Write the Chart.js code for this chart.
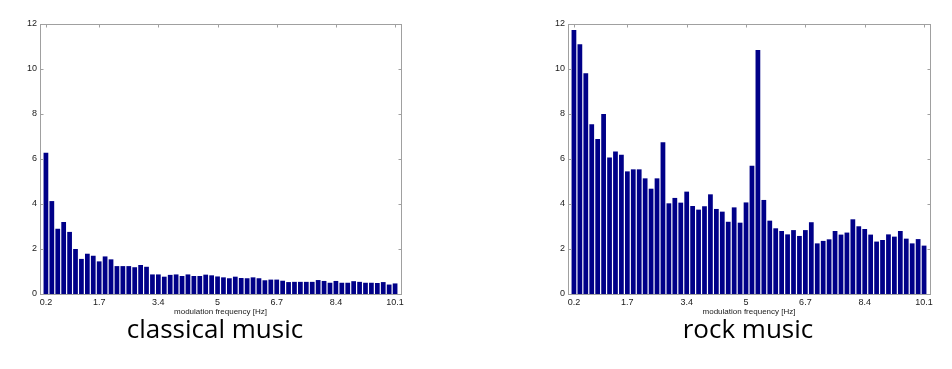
<!DOCTYPE html>
<html>
<head>
<meta charset="utf-8">
<script src="https://cdn.jsdelivr.net/npm/chart.js@4.4.1/dist/chart.umd.min.js"></script>
<style>
  body { margin: 0; background: #fff; width: 952px; height: 369px; overflow: hidden; position: relative; }
  .panel { position: absolute; top: 0; width: 420px; height: 320px; }
  .caption { position: absolute; top: 313px; width: 420px; text-align: center;
             font-family: "Open Sans", sans-serif; font-size: 26px; line-height: 30px; color: #000; }
</style>
</head>
<body>
<div class="panel" style="left:0px"><canvas id="classical" width="420" height="320"></canvas></div>
<div class="panel" style="left:528px"><canvas id="rock" width="420" height="320"></canvas></div>
<div class="caption" style="left:5px">classical music</div>
<div class="caption" style="left:538px">rock music</div>

<script>
// modulation spectrum, 60 bands (bar index 1..60)
const classicalValues = [
  6.28, 4.13, 2.90, 3.20, 2.76, 2.00, 1.56, 1.79, 1.70, 1.45,
  1.67, 1.54, 1.24, 1.24, 1.24, 1.19, 1.29, 1.21, 0.87, 0.87,
  0.77, 0.85, 0.87, 0.80, 0.87, 0.80, 0.80, 0.86, 0.83, 0.78,
  0.74, 0.70, 0.77, 0.71, 0.70, 0.74, 0.70, 0.61, 0.64, 0.64,
  0.59, 0.53, 0.54, 0.54, 0.54, 0.54, 0.62, 0.58, 0.50, 0.58,
  0.50, 0.50, 0.57, 0.54, 0.50, 0.50, 0.49, 0.53, 0.42, 0.47
];
const rockValues = [
  11.73, 11.10, 9.81, 7.54, 6.89, 8.00, 6.07, 6.33, 6.19, 5.45,
  5.54, 5.54, 5.14, 4.68, 5.14, 6.74, 4.03, 4.27, 4.06, 4.55,
  3.91, 3.75, 3.90, 4.43, 3.78, 3.66, 3.21, 3.85, 3.17, 4.07,
  5.70, 10.85, 4.18, 3.26, 2.92, 2.80, 2.65, 2.84, 2.58, 2.84,
  3.19, 2.25, 2.36, 2.43, 2.80, 2.64, 2.73, 3.32, 3.01, 2.89,
  2.64, 2.33, 2.40, 2.65, 2.55, 2.80, 2.46, 2.25, 2.44, 2.15
];
const tickPositions = [1, 10, 20, 30, 40, 50, 60];
const tickLabels = ["0.2", "1.7", "3.4", "5", "6.7", "8.4", "10.1"];
const xTitle = "modulation frequency [Hz]";

// matlab style box with inward ticks on all four sides
const boxPlugin = {
  id: "box",
  afterDatasetsDraw(chart) {
    const {ctx, chartArea: a, scales: {x, y}} = chart;
    const l = Math.round(a.left) + 0.5, r = Math.round(a.right) + 0.5;
    const t = Math.round(a.top) + 0.5, b = Math.round(a.bottom) + 0.5;
    ctx.save();
    ctx.strokeStyle = "#a0a0a0";
    ctx.lineWidth = 1;
    ctx.beginPath();
    x.ticks.forEach(tk => {
      const px = Math.round(x.getPixelForValue(tk.value)) + 0.5;
      ctx.moveTo(px, t); ctx.lineTo(px, t + 3);
    });
    y.ticks.forEach(tk => {
      const py = Math.round(y.getPixelForValue(tk.value)) + 0.5;
      ctx.moveTo(l, py); ctx.lineTo(l + 3, py);
      ctx.moveTo(r, py); ctx.lineTo(r - 3, py);
    });
    ctx.stroke();
    ctx.strokeRect(l, t, r - l, b - t);
    ctx.restore();
  }
};

function makeChart(id, values, rightPad) {
  const ctx = document.getElementById(id).getContext("2d");
  return new Chart(ctx, {
    type: "bar",
    data: {
      datasets: [{
        data: values.map((v, i) => ({x: i + 1, y: v})),
        backgroundColor: "#000088",
        borderWidth: 0,
        barPercentage: 0.8,
        categoryPercentage: 1.0
      }]
    },
    options: {
      responsive: false,
      animation: false,
      layout: {padding: {top: 24, right: rightPad, left: 0, bottom: 0}},
      plugins: {legend: {display: false}, tooltip: {enabled: false}},
      scales: {
        x: {
          type: "linear",
          min: 0,
          max: 61,
          offset: false,
          grid: {display: false, drawTicks: false},
          border: {display: false},
          afterBuildTicks: s => { s.ticks = tickPositions.map(v => ({value: v})); },
          afterFit: s => { s.height = 26; },
          ticks: {
            autoSkip: false,
            maxRotation: 0,
            padding: 3,
            color: "#1a1a1a",
            font: {family: "Liberation Sans, Arial, sans-serif", size: 9},
            callback: v => tickLabels[tickPositions.indexOf(v)]
          },
          title: {
            display: true,
            text: xTitle,
            color: "#1a1a1a",
            padding: {top: 0, bottom: 3},
            font: {family: "Liberation Sans, Arial, sans-serif", size: 8}
          }
        },
        y: {
          min: 0,
          max: 12,
          grid: {display: false, drawTicks: false},
          border: {display: false},
          afterFit: s => { s.width = 40; },
          ticks: {
            stepSize: 2,
            padding: 3,
            color: "#1a1a1a",
            font: {family: "Liberation Sans, Arial, sans-serif", size: 9}
          }
        }
      }
    },
    plugins: [boxPlugin]
  });
}

makeChart("classical", classicalValues, 19);
makeChart("rock", rockValues, 18);
</script>
</body>
</html>
